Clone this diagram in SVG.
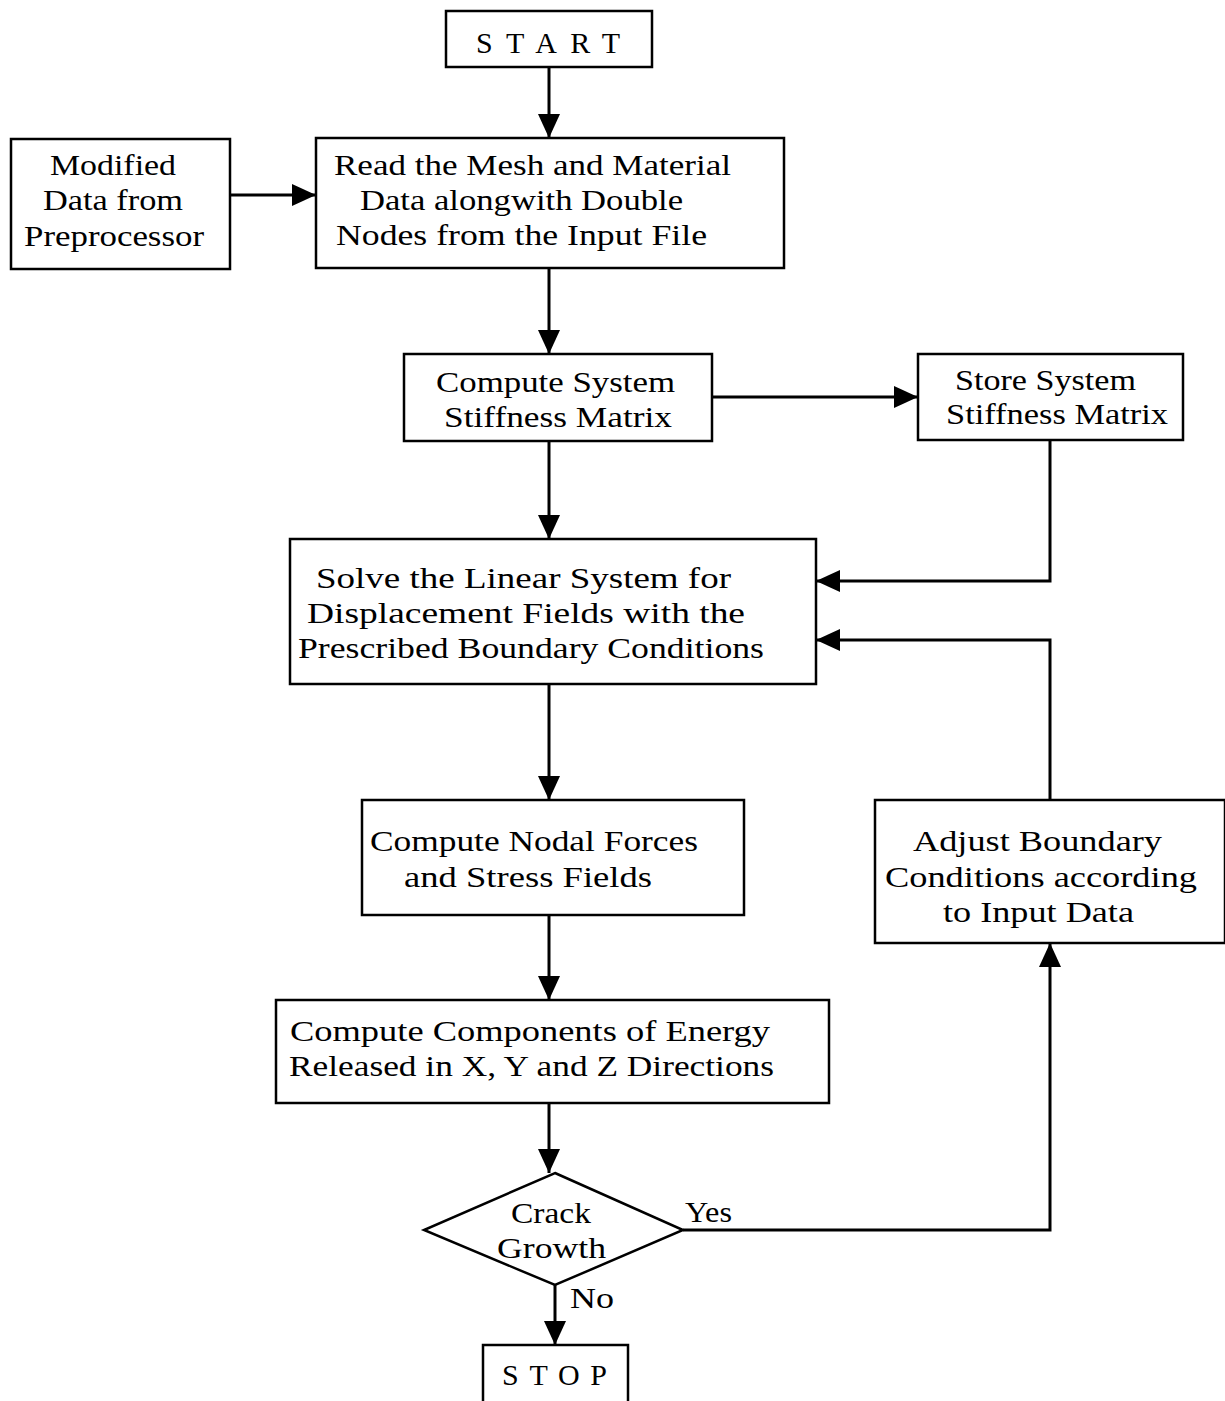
<svg xmlns="http://www.w3.org/2000/svg" width="1225" height="1401" viewBox="0 0 1225 1401">
<style>
.box{fill:#fff;stroke:#000;stroke-width:2.5}
.c{fill:none;stroke:#000;stroke-width:3}
text{font-family:"Liberation Serif","Times New Roman",serif;font-size:30px;fill:#000}
</style>
<defs>
<marker id="ah" markerUnits="userSpaceOnUse" markerWidth="26" markerHeight="22" refX="24" refY="11" orient="auto">
<path d="M0,0 L24,11 L0,22 Z" fill="#000"/>
</marker>
</defs>
<rect width="1225" height="1401" fill="#fff"/>
<g id="connectors">
<line class="c" x1="549" y1="67" x2="549" y2="138" marker-end="url(#ah)"/>
<line class="c" x1="230" y1="195" x2="316" y2="195" marker-end="url(#ah)"/>
<line class="c" x1="549" y1="268" x2="549" y2="354" marker-end="url(#ah)"/>
<line class="c" x1="712" y1="397" x2="918" y2="397" marker-end="url(#ah)"/>
<line class="c" x1="549" y1="441" x2="549" y2="539" marker-end="url(#ah)"/>
<polyline class="c" points="1050,440 1050,581 816,581" marker-end="url(#ah)"/>
<polyline class="c" points="1050,800 1050,640 816,640" marker-end="url(#ah)"/>
<line class="c" x1="549" y1="684" x2="549" y2="800" marker-end="url(#ah)"/>
<line class="c" x1="549" y1="915" x2="549" y2="1000" marker-end="url(#ah)"/>
<line class="c" x1="549" y1="1103" x2="549" y2="1173" marker-end="url(#ah)"/>
<polyline class="c" points="683,1230 1050,1230 1050,943" marker-end="url(#ah)"/>
<line class="c" x1="555" y1="1285" x2="555" y2="1345" marker-end="url(#ah)"/>
<text x="685" y="1222" textLength="47" lengthAdjust="spacingAndGlyphs">Yes</text>
<text x="570" y="1308" textLength="44" lengthAdjust="spacingAndGlyphs">No</text>
</g>
<g id="start">
<rect class="box" x="446" y="11" width="206" height="56"/>
<text x="476" y="53" textLength="144" lengthAdjust="spacing">START</text>
</g>
<g id="modified">
<rect class="box" x="11" y="139" width="219" height="130"/>
<text x="50" y="175" textLength="126" lengthAdjust="spacingAndGlyphs">Modified</text>
<text x="43" y="210" textLength="140" lengthAdjust="spacingAndGlyphs">Data from</text>
<text x="24" y="246" textLength="180" lengthAdjust="spacingAndGlyphs">Preprocessor</text>
</g>
<g id="read">
<rect class="box" x="316" y="138" width="468" height="130"/>
<text x="334" y="175" textLength="397" lengthAdjust="spacingAndGlyphs">Read the Mesh and Material</text>
<text x="360" y="210" textLength="323" lengthAdjust="spacingAndGlyphs">Data alongwith Double</text>
<text x="336" y="245" textLength="371" lengthAdjust="spacingAndGlyphs">Nodes from the Input File</text>
</g>
<g id="compute-stiffness">
<rect class="box" x="404" y="354" width="308" height="87"/>
<text x="436" y="392" textLength="239" lengthAdjust="spacingAndGlyphs">Compute System</text>
<text x="444" y="427" textLength="228" lengthAdjust="spacingAndGlyphs">Stiffness  Matrix</text>
</g>
<g id="store-stiffness">
<rect class="box" x="918" y="354" width="265" height="86"/>
<text x="955" y="390" textLength="181" lengthAdjust="spacingAndGlyphs">Store System</text>
<text x="946" y="424" textLength="222" lengthAdjust="spacingAndGlyphs">Stiffness Matrix</text>
</g>
<g id="solve">
<rect class="box" x="290" y="539" width="526" height="145"/>
<text x="316" y="588" textLength="415" lengthAdjust="spacingAndGlyphs">Solve  the  Linear  System for</text>
<text x="307" y="623" textLength="438" lengthAdjust="spacingAndGlyphs">Displacement  Fields  with  the</text>
<text x="298" y="658" textLength="466" lengthAdjust="spacingAndGlyphs">Prescribed  Boundary Conditions</text>
</g>
<g id="nodal-forces">
<rect class="box" x="362" y="800" width="382" height="115"/>
<text x="370" y="851" textLength="328" lengthAdjust="spacingAndGlyphs">Compute Nodal Forces</text>
<text x="404" y="887" textLength="248" lengthAdjust="spacingAndGlyphs">and  Stress  Fields</text>
</g>
<g id="adjust">
<rect class="box" x="875" y="800" width="350" height="143"/>
<text x="913" y="851" textLength="249" lengthAdjust="spacingAndGlyphs">Adjust  Boundary</text>
<text x="885" y="887" textLength="312" lengthAdjust="spacingAndGlyphs">Conditions  according</text>
<text x="943" y="922" textLength="191" lengthAdjust="spacingAndGlyphs">to  Input Data</text>
</g>
<g id="energy">
<rect class="box" x="276" y="1000" width="553" height="103"/>
<text x="290" y="1041" textLength="480" lengthAdjust="spacingAndGlyphs">Compute  Components of  Energy</text>
<text x="289" y="1076" textLength="485" lengthAdjust="spacingAndGlyphs">Released in X, Y and  Z  Directions</text>
</g>
<g id="crack-growth">
<polygon class="box" points="555,1173 683,1230 555,1285 424,1230" stroke-width="3"/>
<text x="511" y="1223" textLength="80" lengthAdjust="spacingAndGlyphs">Crack</text>
<text x="497" y="1258" textLength="109" lengthAdjust="spacingAndGlyphs">Growth</text>
</g>
<g id="stop">
<rect class="box" x="483" y="1345" width="145" height="60"/>
<text x="502" y="1385" textLength="105" lengthAdjust="spacing">STOP</text>
</g>
</svg>
